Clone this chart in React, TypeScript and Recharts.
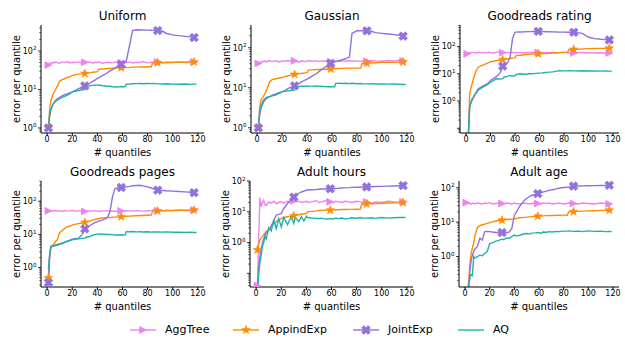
import React from "react";
import { LineChart, Line, XAxis, YAxis } from "recharts";

const FONT = "DejaVu Sans, sans-serif";

const QUANTILES = [
  1, 2, 3, 4, 5, 6, 7, 8, 10, 12,
  14, 16, 18, 20, 22, 25, 28, 30, 31, 34,
  36, 38, 40, 41, 44, 48, 50, 52, 54, 57,
  59, 62, 63, 66, 68, 71, 74, 76, 80, 83,
  84, 88, 92, 95, 100, 105, 110, 114, 117, 119,
];
const MARK_AT = [1, 30, 59, 88, 117];
const X_TICKS = [0, 20, 40, 60, 80, 100, 120];
const X_DOMAIN = [-4.9, 124.9];

const SERIES_NAMES = ["AggTree", "AppindExp", "JointExp", "AQ"];
const COLORS = ["#ee82ee", "#ff8c00", "#9370db", "#20b2aa"];
const MARKERS = ["tri", "star", "x", "none"];

// Uniform
const uniformAggTree = [
  43, 48, 50, 47, 51, 49, 52, 50, 48, 52,
  50, 53, 49, 51, 50, 52, 49, 51, 50, 52,
  49, 51, 50, 52, 48, 51, 50, 49, 52, 50,
  49, 51, 50, 52, 49, 51, 50, 53, 49, 51,
  50, 52, 49, 51, 50, 52, 50, 51, 52, 51,
];
const uniformAppind = [
  1, 3.2, 5.3, 6.5, 7.9, 9, 10.5, 12, 16.5, 18,
  19, 20.5, 21.5, 23, 24, 25, 25.5, 26, 26.5, 27,
  28, 28.5, 29, 33, 34, 35, 35, 35.5, 36, 36.5,
  36.6, 37, 37, 37.5, 38, 38, 38.5, 38.5, 39, 39,
  49.5, 49.6, 50, 50, 50.5, 51, 51, 51.5, 52, 52,
];
const uniformJoint = [
  1, 2, 2.9, 3.6, 4.3, 4.8, 5.3, 5.7, 6.2, 6.8,
  7.3, 7.7, 8.2, 8.7, 9.3, 10.5, 11.5, 12.4, 12.9, 14.5,
  16, 17.5, 19.4, 20, 23, 27, 30.6, 33, 36, 41,
  45, 52, 55, 160, 340, 355, 352, 350, 348, 345,
  343, 340, 325, 285, 262, 250, 240, 232, 223, 223,
];
const uniformAQ = [
  1, 2.2, 3.1, 3.8, 4.3, 4.6, 5, 5.3, 5.8, 6.2,
  6.6, 7.1, 7.7, 8.7, 9, 9.4, 9.8, 10, 12.2, 12.5,
  12.8, 12.9, 13, 13.1, 12.5, 12.1, 12.2, 11.8, 11.6, 11.7,
  11.9, 11.7, 13.8, 13.9, 14.1, 14.2, 14.3, 14.1, 14.3, 14.2,
  14.4, 14, 13.9, 14.1, 13.8, 13.7, 13.9, 13.6, 13.8, 13.8,
];

// Gaussian
const gaussAggTree = [
  40.5, 44, 42, 46, 45, 47, 44, 46, 48, 45,
  47, 46, 44, 47, 46, 48, 45, 47, 46, 44,
  47, 45, 46, 48, 46, 47, 45, 47, 46, 48,
  45, 47, 46, 45, 47, 46, 48, 46, 47, 45,
  47, 46, 48, 47, 46, 48, 47, 49, 47, 46,
];
const gaussAppind = [
  1, 3, 4.9, 5.5, 6, 7, 8, 9.5, 14, 16,
  16.5, 17, 17.5, 18, 19, 20, 21, 21.5, 21.8, 22.5,
  23, 23.5, 23.7, 27.6, 28, 28.5, 28.5, 29, 29, 29,
  29.5, 30, 30, 30.5, 30.5, 31, 31, 31, 31, 31,
  40.5, 41, 42, 42, 43, 43, 43.5, 44, 44, 44,
];
const gaussJoint = [
  1, 2, 3, 3.6, 4.3, 4.8, 5.2, 5.5, 6, 6.4,
  6.8, 7.2, 7.6, 7.9, 8.5, 9.6, 10.5, 11.2, 11.6, 13,
  14.2, 15.4, 16.5, 17, 19.5, 23, 26, 29, 32, 37,
  40.5, 44, 45.5, 48, 50, 53, 59, 229, 265, 268,
  266, 265, 255, 238, 229, 220, 212, 205, 195, 195,
];
const gaussAQ = [
  1, 2.5, 3.4, 4.1, 4.9, 5.2, 5.6, 5.8, 6, 6.3,
  6.5, 6.8, 7.3, 7.9, 8.1, 8.4, 8.6, 8.7, 10.6, 10.8,
  10.9, 11, 10.9, 11, 11, 11.1, 10.8, 10.9, 10.7, 10.6,
  10.7, 10.6, 12.9, 13, 12.8, 13, 12.7, 12.9, 12.6, 12.8,
  12.6, 12.5, 12.7, 12.4, 12.5, 12.3, 12.4, 12.2, 12.1, 12.1,
];

// Goodreads rating
const ratingAggTree = [
  54, 58, 60, 57, 62, 59, 61, 58, 62, 60,
  61, 59, 62, 60, 58, 61, 62, 60, 59, 61,
  60, 62, 59, 61, 60, 58, 61, 60, 62, 59,
  61, 60, 59, 61, 60, 62, 58, 60, 61, 59,
  60, 58, 61, 59, 60, 58, 59, 57, 58, 58,
];
const ratingAppind = [
  0.03, 0.06, 1.85, 3, 4.3, 6.5, 9, 12, 17.5, 19.5,
  21, 23, 25, 28, 29, 30.5, 32, 33, 34, 35,
  36.5, 37.5, 38.5, 47, 48, 50, 51, 52, 53, 53.5,
  54, 55, 55, 56, 57, 58, 59, 60, 61, 62,
  78, 79, 80, 82, 84, 85, 86, 87, 88, 89,
];
const ratingJoint = [
  0.03, 0.07, 0.6, 0.85, 1.06, 1.3, 1.6, 2, 2.8, 3.2,
  3.6, 4, 4.5, 5.7, 6.5, 8, 11, 19, 20, 26,
  40, 200, 335, 340, 345, 350, 355, 355, 360, 358,
  360, 355, 358, 352, 350, 348, 345, 340, 338, 336,
  335, 335, 320, 305, 220, 195, 185, 180, 175, 175,
];
const ratingAQ = [
  0.03, 0.07, 0.6, 0.9, 1.2, 1.4, 1.7, 1.9, 2.5, 2.9,
  3.3, 3.7, 4.2, 5, 5.5, 6.6, 6.4, 6.6, 7.5, 8,
  8.7, 8.3, 8.5, 9.5, 10, 9.6, 9.8, 10.2, 10, 10.4,
  10.6, 10.8, 11, 11.3, 11.5, 11.8, 12.5, 13, 12.8, 12.9,
  13, 12.8, 12.7, 12.9, 12.6, 12.7, 12.5, 12.6, 12.5, 12.5,
];

// Goodreads pages
const pagesAggTree = [
  51, 50, 52, 49, 51, 53, 50, 52, 51, 49,
  52, 50, 51, 53, 50, 51, 52, 49, 51, 50,
  52, 51, 50, 49, 51, 52, 50, 51, 49, 52,
  51, 50, 52, 51, 50, 52, 51, 50, 52, 51,
  53, 52, 51, 53, 52, 54, 52, 53, 54, 54,
];
const pagesAppind = [
  0.49, 2.5, 4.3, 4.6, 4.9, 5.5, 6.3, 6.8, 11.4, 13,
  15, 17, 17.5, 19, 20, 21, 22, 23, 23.5, 25,
  27, 28, 29, 30, 31, 32, 32.5, 33, 33, 33.5,
  34, 34.5, 35, 35.5, 36, 36.5, 37, 37, 37.5, 38,
  51, 51, 52, 52, 52.5, 53, 53, 53.5, 54, 54,
];
const pagesJoint = [
  0.35, 2, 4.3, 4.3, 4.4, 4.5, 4.6, 4.7, 4.9, 5.3,
  5.8, 6.2, 6.7, 7.2, 7.4, 7.7, 10, 14.6, 15.5, 18.5,
  20.5, 22.5, 24, 25, 27, 32, 48, 135, 240, 255,
  258, 262, 270, 280, 290, 295, 300, 290, 270, 250,
  240, 215, 210, 205, 200, 195, 190, 185, 180, 178,
];
const pagesAQ = [
  0.87, 2.5, 4.3, 4.4, 4.5, 4.7, 4.9, 5, 5.2, 5.5,
  5.8, 6.2, 6.5, 6.8, 7.1, 7.4, 7.6, 7.7, 8.2, 8.6,
  9.4, 9.8, 10.2, 10.3, 10.1, 9.9, 10, 9.8, 9.6, 9.6,
  9.7, 9.5, 12.1, 12, 12.2, 11.9, 12.1, 11.8, 12, 11.7,
  11.9, 11.8, 11.7, 11.9, 11.6, 11.6, 11.5, 11.6, 11.4, 11.4,
];

// Adult hours
const hoursAggTree = [
  0.04, 1.5, 29, 14.5, 20, 24, 17, 16, 21, 19,
  22, 18.5, 20, 21, 19, 22, 20, 22.5, 21, 22,
  20, 21, 22, 20, 21, 23, 20, 21, 22, 25,
  21, 20, 22, 21, 20, 22, 21, 20, 22, 21,
  20, 21, 19, 21, 20, 22, 21, 20, 21, 20,
];
const hoursAppind = [
  0.58, 0.9, 1.2, 1.4, 1.56, 1.8, 2, 2.3, 2.6, 3.3,
  4, 4.8, 5.5, 6.1, 6.5, 6.9, 7.2, 7.4, 7.6, 8,
  8.3, 8.6, 8.8, 10, 10.3, 10.7, 11, 11, 11.2, 11.3,
  11.3, 11.5, 11.6, 11.7, 11.8, 11.9, 12, 12, 12.1, 12.2,
  17.6, 18, 18.3, 18.6, 19, 19.2, 19.5, 19.7, 20, 20,
];
const hoursJoint = [
  0.02, 0.15, 0.35, 0.6, 0.95, 1.3, 1.7, 2.1, 2.6, 3.5,
  5, 7.8, 8.2, 8.8, 12.8, 18.5, 25, 30, 32, 40,
  44, 47, 50, 51, 52, 53, 54, 55, 55, 56,
  56, 57, 57, 58, 59, 60, 61, 62, 63, 63,
  64, 64, 65, 66, 67, 68, 69, 70, 71, 72,
];
const hoursAQ = [
  0.02, 0.1, 0.22, 0.4, 0.74, 1, 1.56, 1.3, 3, 2.4,
  5.5, 2.8, 6, 3.2, 6.5, 3.8, 7, 4.2, 6.5, 4.8,
  7, 5, 7.2, 6.5, 6.3, 6.1, 6, 6.2, 5.9, 5.8,
  6, 5.8, 6.2, 6, 6.3, 5.9, 6.1, 6.4, 6.2, 6.5,
  6.3, 6.2, 6.4, 6.1, 6.5, 6.2, 6.4, 6.6, 6.5, 6.6,
];

// Adult age
const ageAggTree = [
  37, 34, 36, 35, 33, 36, 35, 34, 36, 35,
  34, 36, 35, 37, 34, 35, 36, 35, 34, 36,
  35, 34, 36, 35, 34, 36, 35, 34, 35, 36,
  35, 34, 36, 35, 36, 34, 35, 36, 34, 35,
  36, 35, 34, 36, 35, 34, 36, 35, 34, 35,
];
const ageAppind = [
  0.03, 0.08, 0.2, 0.6, 1.25, 1.8, 2.4, 4, 7.1, 7.9,
  8.4, 8.8, 9.2, 9.7, 10.2, 10.8, 11.2, 11.5, 11.6, 12,
  12.2, 12.3, 12.4, 12.7, 13.5, 13.8, 14, 14.3, 14.5, 14.7,
  15, 15.2, 15.3, 15.5, 15.6, 15.7, 15.8, 15.9, 16, 16,
  20, 20.3, 20.6, 21, 21.3, 21.6, 22, 22.2, 22.5, 22.5,
];
const ageJoint = [
  0.03, 0.08, 0.13, 0.4, 0.8, 1.1, 1.4, 1.65, 1.95, 3.4,
  3, 5.3, 5.4, 5.3, 5.2, 5, 5, 5, 5, 5,
  5.2, 6.6, 16, 18, 28, 43, 49, 55, 60, 64,
  68, 73, 75, 80, 84, 88, 93, 97, 102, 104,
  105, 112, 113, 114, 115, 116, 117, 118, 119, 120,
];
const ageAQ = [
  0.03, 0.08, 0.14, 0.25, 0.3, 0.28, 1, 0.9, 1, 1.1,
  1.05, 1.25, 1.4, 2.4, 2.5, 2.8, 3, 3.2, 3.1, 3.5,
  3.4, 3.9, 4.2, 4, 4.1, 4.6, 4.7, 4.5, 4.8, 4.9,
  5, 4.8, 5.2, 5.1, 5.3, 5.2, 5.4, 5.3, 5.5, 5.5,
  5.6, 5.4, 5.5, 5.3, 5.6, 5.4, 5.5, 5.3, 5.4, 5.3,
];

const PANELS = [
  { title: "Uniform", plot: { l: 41, t: 25, w: 163, h: 108 }, yDomain: [0.74, 473], series: [uniformAggTree, uniformAppind, uniformJoint, uniformAQ] },
  { title: "Gaussian", plot: { l: 251, t: 25, w: 162, h: 108 }, yDomain: [0.74, 370], series: [gaussAggTree, gaussAppind, gaussJoint, gaussAQ] },
  { title: "Goodreads rating", plot: { l: 460, t: 25, w: 159, h: 108 }, yDomain: [0.067, 620], series: [ratingAggTree, ratingAppind, ratingJoint, ratingAQ] },
  { title: "Goodreads pages", plot: { l: 41, t: 181, w: 163, h: 106 }, yDomain: [0.26, 405], series: [pagesAggTree, pagesAppind, pagesJoint, pagesAQ] },
  { title: "Adult hours", plot: { l: 250, t: 181, w: 163, h: 106 }, yDomain: [0.036, 100], series: [hoursAggTree, hoursAppind, hoursJoint, hoursAQ] },
  { title: "Adult age", plot: { l: 459, t: 181, w: 160, h: 106 }, yDomain: [0.13, 158], series: [ageAggTree, ageAppind, ageJoint, ageAQ] },
];

function logTicks(lo: number, hi: number) {
  const out: number[] = [];
  for (let d = Math.floor(Math.log10(lo)); d <= Math.ceil(Math.log10(hi)); d++) {
    for (let k = 1; k <= 9; k++) {
      const v = Number((k * Math.pow(10, d)).toPrecision(6));
      if (v >= lo && v <= hi) out.push(v);
    }
  }
  return out;
}

function markerShape(kind: string, cx: number, cy: number, color: string, key?: string) {
  if (kind === "tri") {
    const r = 3.4;
    return <polygon key={key} points={`${cx + r},${cy} ${cx - r},${cy - r} ${cx - r},${cy + r}`} fill={color} stroke={color} strokeWidth={0.8} />;
  }
  if (kind === "star") {
    const pts: string[] = [];
    for (let i = 0; i < 10; i++) {
      const r = i % 2 === 0 ? 4.5 : 1.8;
      const a = -Math.PI / 2 + (i * Math.PI) / 5;
      pts.push(`${cx + r * Math.cos(a)},${cy + r * Math.sin(a)}`);
    }
    return <polygon key={key} points={pts.join(" ")} fill={color} stroke={color} strokeWidth={0.6} />;
  }
  if (kind === "x") {
    const w = 1.6;
    const L = 4.6;
    const p = [[-w, -L], [w, -L], [w, -w], [L, -w], [L, w], [w, w], [w, L], [-w, L], [-w, w], [-L, w], [-L, -w], [-w, -w]];
    return (
      <polygon
        key={key}
        points={p.map(([a, b]) => `${cx + a},${cy + b}`).join(" ")}
        transform={`rotate(45 ${cx} ${cy})`}
        fill={color}
        stroke={color}
        strokeWidth={0.6}
      />
    );
  }
  return <g key={key} />;
}

const makeDot = (kind: string, color: string) => (props: any) => {
  const { cx, cy, payload, index } = props;
  const key = `d-${kind}-${index}`;
  if (kind === "none" || !payload || !MARK_AT.includes(payload.q) || cx == null || cy == null || !isFinite(cy)) {
    return <g key={key} />;
  }
  return markerShape(kind, cx, cy, color, key);
};

const YTick = (props: any) => {
  const { x, y, payload } = props;
  const v = payload.value;
  const e = Math.log10(v);
  const exp = Math.round(e);
  const major = Math.abs(e - exp) < 1e-6;
  return (
    <g>
      <line x1={x} x2={x - (major ? 3 : 1.8)} y1={y} y2={y} stroke="#000" strokeWidth={major ? 0.8 : 0.6} />
      {major && exp >= 0 && (
        <text x={x - 4.5} y={y + 2.9} textAnchor="end" fontSize={8} fontFamily={FONT} fill="#000">
          10<tspan dy={-3.4} fontSize={5.6}>{exp}</tspan>
        </text>
      )}
    </g>
  );
};

const Panel = ({ cfg }: { cfg: (typeof PANELS)[number] }) => {
  const { title, plot, yDomain, series } = cfg;
  const rows = QUANTILES.map((q, i) => {
    const row: Record<string, number> = { q };
    SERIES_NAMES.forEach((name, s) => {
      row[name] = series[s][i];
    });
    return row;
  });
  const yTicks = logTicks(yDomain[0], yDomain[1]);
  return (
    <>
      <div
        style={{
          position: "absolute",
          left: plot.l,
          width: plot.w,
          top: plot.t - 16,
          height: 14,
          lineHeight: "14px",
          fontSize: 12,
          textAlign: "center",
          color: "#000",
          whiteSpace: "nowrap",
        }}
      >
        {title}
      </div>
      <div style={{ position: "absolute", left: plot.l - 45, top: plot.t - 22 }}>
        <LineChart width={45 + plot.w + 3} height={22 + plot.h + 30} data={rows} margin={{ top: 22, right: 3, bottom: 0, left: 0 }}>
          <XAxis
            dataKey="q"
            type="number"
            domain={X_DOMAIN}
            ticks={X_TICKS}
            interval={0}
            allowDataOverflow
            height={30}
            tickSize={3}
            tickMargin={0.5}
            stroke="#000"
            tick={{ fontSize: 8, fill: "#000", fontFamily: FONT }}
            label={{ value: "# quantiles", position: "insideBottom", offset: 7, fontSize: 10, fill: "#000", fontFamily: FONT }}
          />
          <XAxis
            xAxisId="top"
            orientation="top"
            dataKey="q"
            type="number"
            domain={X_DOMAIN}
            allowDataOverflow
            height={0}
            tick={false}
            tickLine={false}
            stroke="#000"
          />
          <YAxis
            scale="log"
            type="number"
            domain={yDomain}
            allowDataOverflow
            ticks={yTicks}
            interval={0}
            width={45}
            tickSize={0}
            tickMargin={0}
            tickLine={false}
            stroke="#000"
            tick={<YTick />}
            label={{ value: "error per quantile", angle: -90, position: "center", dx: -2, fontSize: 10, fill: "#000", fontFamily: FONT }}
          />
          <YAxis yAxisId="right" orientation="right" type="number" domain={[0, 1]} width={0} tick={false} tickLine={false} stroke="#000" />
          {SERIES_NAMES.map((name, s) => (
            <Line
              key={name}
              type="linear"
              dataKey={name}
              stroke={COLORS[s]}
              strokeWidth={1.4}
              dot={makeDot(MARKERS[s], COLORS[s])}
              activeDot={false}
              isAnimationActive={false}
            />
          ))}
        </LineChart>
      </div>
    </>
  );
};

const LEGEND_X = [130, 233, 353, 458];

export default function App() {
  return (
    <div style={{ position: "absolute", left: 0, top: 0, width: 625, height: 339, background: "#fff", fontFamily: FONT }}>
      {PANELS.map((p) => (
        <Panel key={p.title} cfg={p} />
      ))}
      {SERIES_NAMES.map((name, s) => (
        <div key={name} style={{ position: "absolute", left: LEGEND_X[s], top: 322, height: 16, display: "flex", alignItems: "center" }}>
          <svg width={26} height={12} style={{ display: "block" }}>
            <line x1={0} x2={26} y1={6} y2={6} stroke={COLORS[s]} strokeWidth={1.4} />
            {markerShape(MARKERS[s], 13, 6, COLORS[s])}
          </svg>
          <span style={{ marginLeft: 9, fontSize: 11, color: "#000", lineHeight: "16px", whiteSpace: "nowrap" }}>{name}</span>
        </div>
      ))}
    </div>
  );
}
